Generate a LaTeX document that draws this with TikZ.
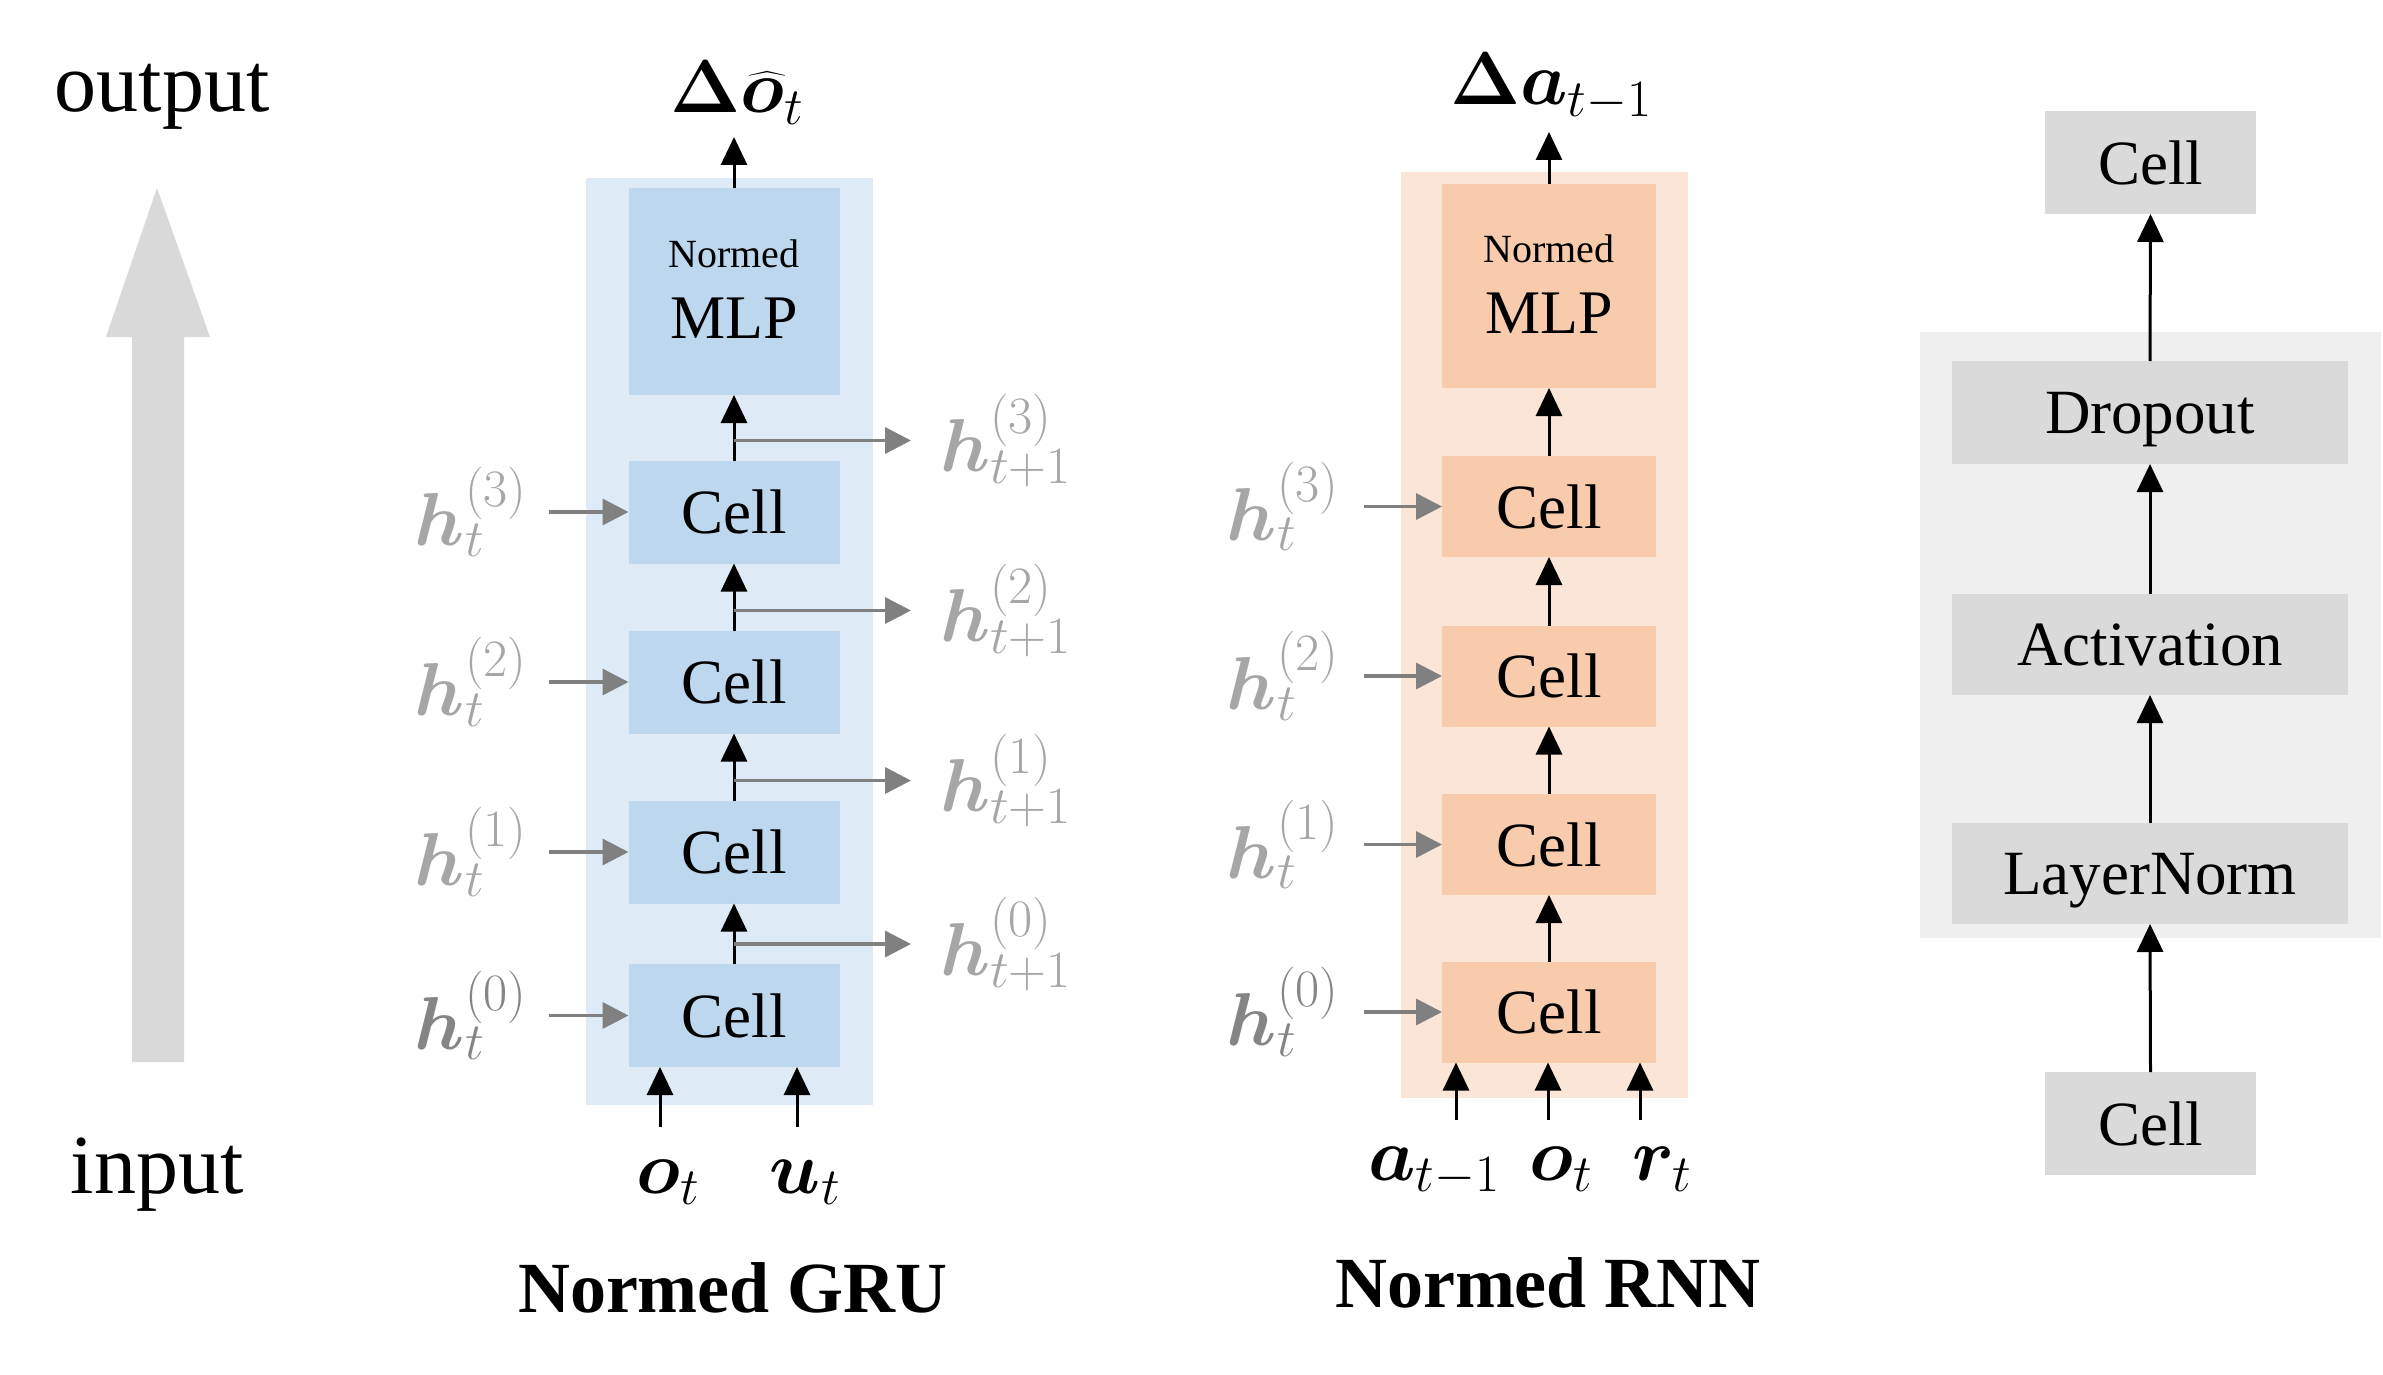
\documentclass[tikz,border=0pt]{standalone}
\usepackage{fix-cm}
\usepackage[no-math]{fontspec}
\setmainfont{Liberation Serif}
\usepackage{amsmath}
\usepackage{bm}
\usetikzlibrary{arrows.meta,calc}
\definecolor{bluepanel}{HTML}{DEEBF7}
\definecolor{bluebox}{HTML}{BDD7EE}
\definecolor{orpanel}{HTML}{FBE5D6}
\definecolor{orbox}{HTML}{F8CBAD}
\definecolor{grpanel}{HTML}{EFEFEF}
\definecolor{grbox}{HTML}{DADADA}
\definecolor{bigarrow}{HTML}{D9D9D9}
\definecolor{hlab}{HTML}{A6A6A6}
\definecolor{hlabdark}{HTML}{858585}
\definecolor{garrow}{HTML}{808080}
\begin{document}
\begin{tikzpicture}[x=1pt,y=-1pt,
  cellbox/.style={inner sep=0pt, outer sep=0pt, minimum height=103pt, text depth=0pt, font=\fontsize{63}{70}\selectfont},
  mlabel/.style={inner sep=0pt, font=\fontsize{75}{80}\selectfont},
  hlabel/.style={mlabel, text=hlab},
  bigtext/.style={inner sep=0pt, font=\fontsize{84}{90}\selectfont},
  title/.style={inner sep=0pt, font=\fontsize{72}{78}\selectfont\bfseries},
  smalltext/.style={inner sep=0pt, font=\fontsize{40}{44}\selectfont},
  mlptext/.style={inner sep=0pt, font=\fontsize{62}{68}\selectfont},
  blk/.style={line width=3pt, draw=black, -{Triangle[length=28pt,width=26pt]}},
  garr/.style={line width=3.5pt, draw=garrow, -{Triangle[length=26pt,width=26pt]}}
]
\fill[white] (0,0) rectangle (2383,1375);
\useasboundingbox (0,0) rectangle (2383,1375);

% ---------- left big arrow and texts ----------
\fill[bigarrow] (132,1062) -- (132,337) -- (106,337) -- (157,188) -- (210,337) -- (184,337) -- (184,1062) -- cycle;
\node[bigtext, anchor=base] (outtxt) at (162,112) {output};
\node[bigtext, anchor=base] (intxt) at (157,1193) {input};

% ---------- Normed GRU ----------
\fill[bluepanel] (586,178) rectangle (873,1105);
\node[cellbox, fill=bluebox, minimum width=211pt, minimum height=207pt] (gmlp) at (734,291.5) {};
\node[smalltext, anchor=base] (gnormed) at ($(gmlp.center)+(0,-24.5)$) {Normed};
\node[mlptext, anchor=base] (gmlpt) at ($(gmlp.center)+(0,46.5)$) {MLP};
\node[cellbox, fill=bluebox, minimum width=211pt] (gc3) at (734,512) {Cell};
\node[cellbox, fill=bluebox, minimum width=211pt] (gc2) at (734,682) {Cell};
\node[cellbox, fill=bluebox, minimum width=211pt] (gc1) at (734,852) {Cell};
\node[cellbox, fill=bluebox, minimum width=211pt] (gc0) at (734,1015.5) {Cell};

\coordinate (gtop) at (734,137);
\draw[blk] (gmlp.north) -- (gtop);
\draw[blk] (gc3.north) -- (gmlp.south);
\draw[blk] (gc2.north) -- (gc3.south);
\draw[blk] (gc1.north) -- (gc2.south);
\draw[blk] (gc0.north) -- (gc1.south);

\node[mlabel, anchor=base] (gout) at (737,113) {$\bm{\Delta}\widehat{\bm{o}}_t$};

\node[hlabel, anchor=west] (hr3) at (940,440.5) {$\bm{h}_{t+1}^{(3)}$};
\node[hlabel, anchor=west] (hr2) at (940,610.5) {$\bm{h}_{t+1}^{(2)}$};
\node[hlabel, anchor=west] (hr1) at (940,780.5) {$\bm{h}_{t+1}^{(1)}$};
\node[hlabel, anchor=west] (hr0) at (940,944) {$\bm{h}_{t+1}^{(0)}$};
\draw[garr] (gc3.north |- hr3.west) -- ([xshift=-29pt]hr3.west);
\draw[garr] (gc2.north |- hr2.west) -- ([xshift=-29pt]hr2.west);
\draw[garr] (gc1.north |- hr1.west) -- ([xshift=-29pt]hr1.west);
\draw[garr] (gc0.north |- hr0.west) -- ([xshift=-29pt]hr0.west);

\node[hlabel, anchor=east] (hl3) at (527,512) {$\bm{h}_t^{(3)}$};
\node[hlabel, anchor=east] (hl2) at (527,682) {$\bm{h}_t^{(2)}$};
\node[hlabel, anchor=east] (hl1) at (527,852) {$\bm{h}_t^{(1)}$};
\node[hlabel, anchor=east, text=hlabdark] (hl0) at (527,1015.5) {$\bm{h}_t^{(0)}$};
\draw[garr] ([xshift=22pt]hl3.east) -- (gc3.west);
\draw[garr] ([xshift=22pt]hl2.east) -- (gc2.west);
\draw[garr] ([xshift=22pt]hl1.east) -- (gc1.west);
\draw[garr] ([xshift=22pt]hl0.east) -- (gc0.west);

\node[mlabel, anchor=base] (lo) at (668,1193) {$\bm{o}_t$};
\node[mlabel, anchor=base] (lu) at (805,1193) {$\bm{u}_t$};
\coordinate (go) at (660,1127);
\coordinate (gu) at (797,1127);
\draw[blk] (go) -- (go |- gc0.south);
\draw[blk] (gu) -- (gu |- gc0.south);

\node[title, anchor=base] (gtitle) at (733,1312) {Normed GRU};

% ---------- Normed RNN ----------
\fill[orpanel] (1401,172) rectangle (1688,1098);
\node[cellbox, fill=orbox, minimum width=214pt, minimum height=204pt] (rmlp) at (1549,286) {};
\node[smalltext, anchor=base] (rnormed) at ($(rmlp.center)+(0,-24)$) {Normed};
\node[mlptext, anchor=base] (rmlpt) at ($(rmlp.center)+(0,47)$) {MLP};
\node[cellbox, fill=orbox, minimum width=214pt, minimum height=101pt] (rc3) at (1549,506.5) {Cell};
\node[cellbox, fill=orbox, minimum width=214pt, minimum height=101pt] (rc2) at (1549,676) {Cell};
\node[cellbox, fill=orbox, minimum width=214pt, minimum height=101pt] (rc1) at (1549,844.5) {Cell};
\node[cellbox, fill=orbox, minimum width=214pt, minimum height=101pt] (rc0) at (1549,1012) {Cell};

\coordinate (rtop) at (1549,132);
\draw[blk] (rmlp.north) -- (rtop);
\draw[blk] (rc3.north) -- (rmlp.south);
\draw[blk] (rc2.north) -- (rc3.south);
\draw[blk] (rc1.north) -- (rc2.south);
\draw[blk] (rc0.north) -- (rc1.south);

\node[mlabel, anchor=base] (rout) at (1551,105) {$\bm{\Delta}\bm{a}_{t-1}$};

\node[hlabel, anchor=east] (rl3) at (1339,506.5) {$\bm{h}_t^{(3)}$};
\node[hlabel, anchor=east] (rl2) at (1339,676) {$\bm{h}_t^{(2)}$};
\node[hlabel, anchor=east] (rl1) at (1339,844.5) {$\bm{h}_t^{(1)}$};
\node[hlabel, anchor=east, text=hlabdark] (rl0) at (1339,1012) {$\bm{h}_t^{(0)}$};
\draw[garr] ([xshift=25pt]rl3.east) -- (rc3.west);
\draw[garr] ([xshift=25pt]rl2.east) -- (rc2.west);
\draw[garr] ([xshift=25pt]rl1.east) -- (rc1.west);
\draw[garr] ([xshift=25pt]rl0.east) -- (rc0.west);

\node[mlabel, anchor=base] (la) at (1434,1180) {$\bm{a}_{t-1}$};
\node[mlabel, anchor=base] (lro) at (1561,1180) {$\bm{o}_t$};
\node[mlabel, anchor=base] (lr) at (1662,1180) {$\bm{r}_t$};
\coordinate (ra) at (1456,1120);
\coordinate (ro) at (1548,1120);
\coordinate (rr) at (1640,1120);
\draw[blk] (ra) -- (ra |- rc0.south);
\draw[blk] (ro) -- (ro |- rc0.south);
\draw[blk] (rr) -- (rr |- rc0.south);

\node[title, anchor=base] (rtitle) at (1548,1307) {Normed RNN};

% ---------- cell detail ----------
\fill[grpanel] (1920,332) rectangle (2381,938);
\node[cellbox, fill=grbox, minimum width=211pt] (tcell) at (2150.5,162.5) {Cell};
\node[cellbox, fill=grbox, minimum width=396pt] (drop) at (2150,412.5) {Dropout};
\node[cellbox, fill=grbox, minimum width=396pt, minimum height=101pt] (act) at (2150,644.5) {Activation};
\node[cellbox, fill=grbox, minimum width=396pt, minimum height=101pt] (ln) at (2150,873.5) {LayerNorm};
\node[cellbox, fill=grbox, minimum width=211pt] (bcell) at (2150.5,1123.5) {Cell};
\draw[blk] (bcell.north) -- (ln.south);
\draw[blk] (ln.north) -- (act.south);
\draw[blk] (act.north) -- (drop.south);
\draw[blk] (drop.north) -- (tcell.south);
\end{tikzpicture}
\end{document}
